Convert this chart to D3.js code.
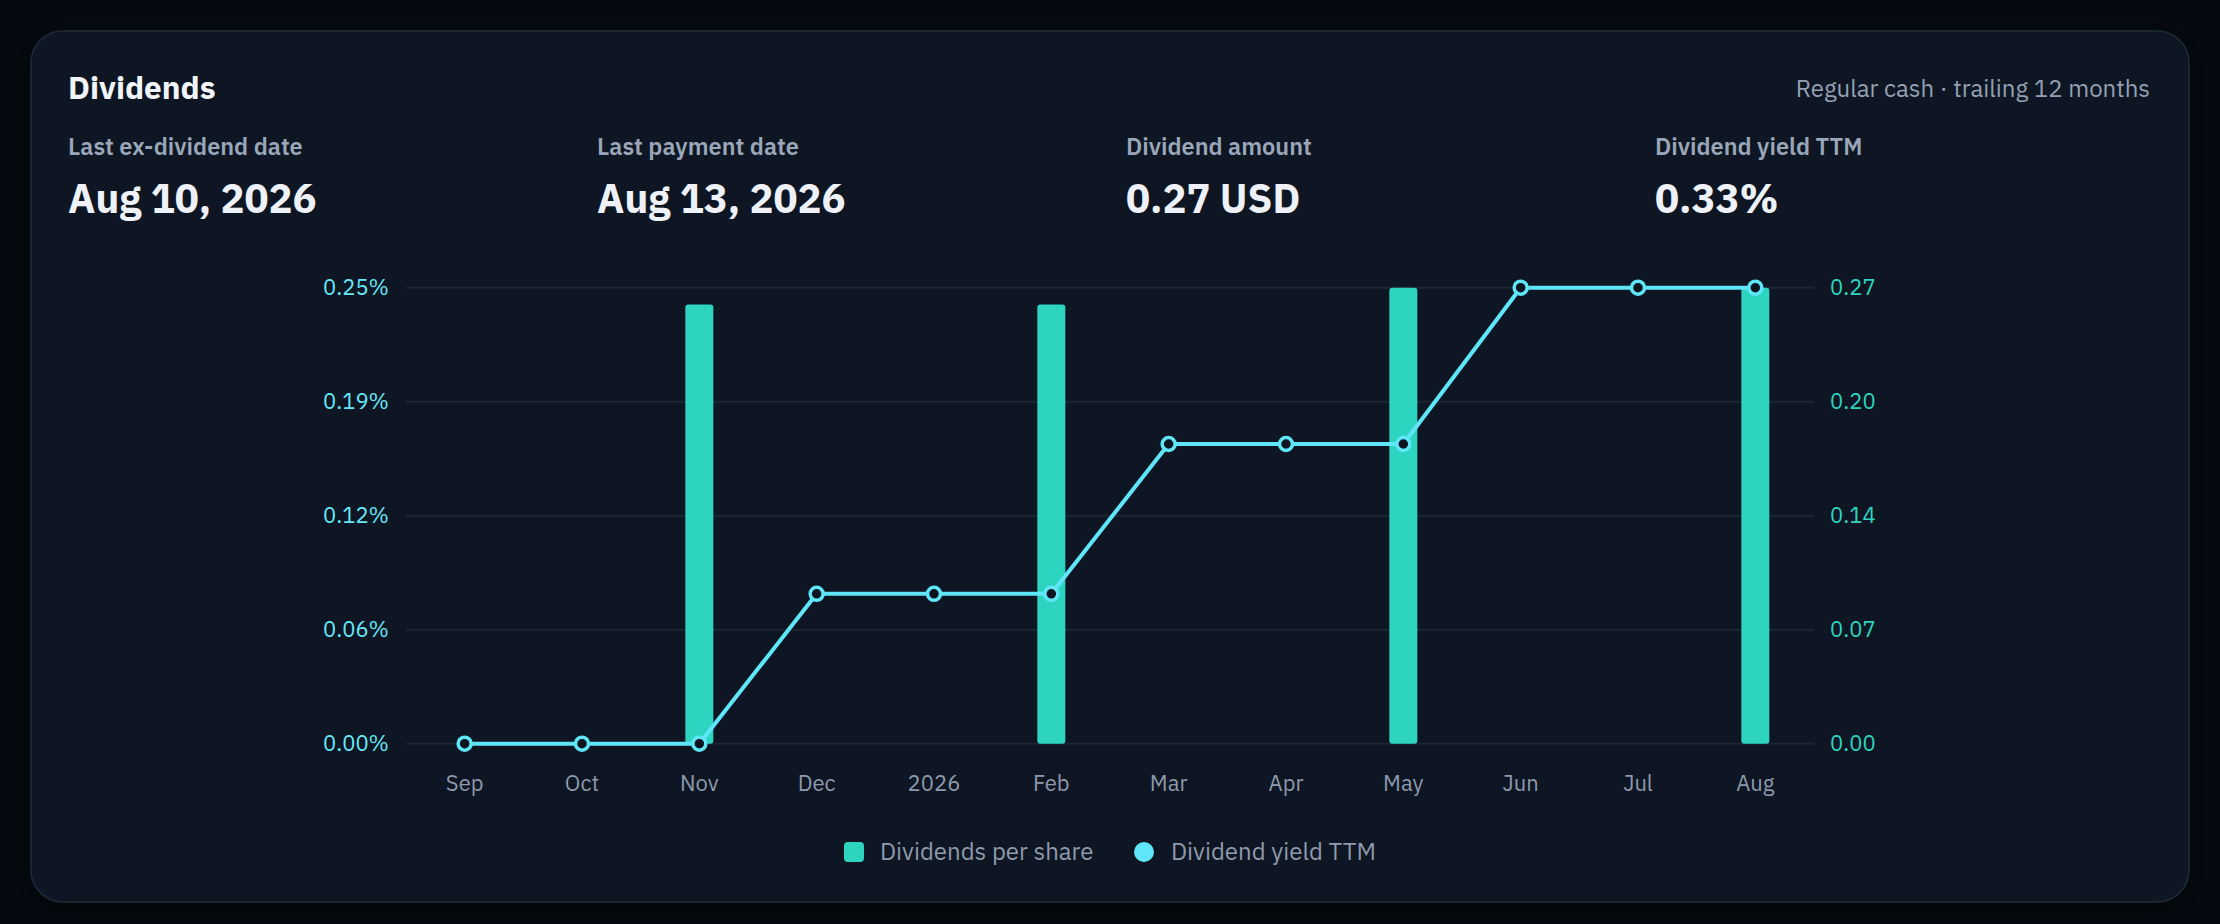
<!DOCTYPE html>
<html>
<head>
<meta charset="utf-8">
<script src="https://cdn.jsdelivr.net/npm/d3@7"></script>
<style>
  body { margin: 0; background: #050a10; }
  svg { display: block; font-family: "IBM Plex Sans", Roboto, "Noto Sans", sans-serif; }
</style>
</head>
<body>
<div id="chart"></div>
<script>
// chart data
var months = ["Sep", "Oct", "Nov", "Dec", "2026", "Feb", "Mar", "Apr", "May", "Jun", "Jul", "Aug"];
var dividends = [0, 0, 0.26, 0, 0, 0.26, 0, 0, 0.27, 0, 0, 0.27];
var yieldTTM = [0, 0, 0, 0.0815, 0.0815, 0.0815, 0.163, 0.163, 0.163, 0.248, 0.248, 0.248];
var leftTickLabels = ["0.00%", "0.06%", "0.12%", "0.19%", "0.25%"];
var rightTickLabels = ["0.00", "0.07", "0.14", "0.20", "0.27"];
var stats = [
    { label: "Last ex-dividend date", value: "Aug 10, 2026" },
    { label: "Last payment date", value: "Aug 13, 2026" },
    { label: "Dividend amount", value: "0.27 USD" },
    { label: "Dividend yield TTM", value: "0.33%" }
];

var W = 2220, H = 924;
var barColor = "#2dd4bf", lineColor = "#5fe6f8", cardBg = "#0e1521";
var plot = { left: 406, right: 1814, top: 287.7, bottom: 743.7 };

var svg = d3.select("#chart").append("svg")
    .attr("width", W)
    .attr("height", H);

var defs = svg.append("defs");
var f = defs.append("filter").attr("id", "shadow")
    .attr("x", "-5%").attr("y", "-5%").attr("width", "110%").attr("height", "115%");
f.append("feDropShadow").attr("dx", 0).attr("dy", 6).attr("stdDeviation", 12)
    .attr("flood-color", "#000").attr("flood-opacity", 0.5);

// card
svg.append("rect")
    .attr("x", 31).attr("y", 31)
    .attr("width", 2158).attr("height", 871)
    .attr("rx", 32)
    .attr("fill", cardBg)
    .attr("stroke", "#1f2b38")
    .attr("stroke-width", 1.5)
    .attr("filter", "url(#shadow)");

svg.append("text")
    .attr("x", 68).attr("y", 99)
    .attr("fill", "#f1f5f9")
    .style("font-size", "31.5px").style("font-weight", 700)
    .text("Dividends");

svg.append("text")
    .attr("x", 2150).attr("y", 97)
    .attr("text-anchor", "end")
    .attr("fill", "#94a0b4")
    .style("font-size", "24px")
    .text("Regular cash \u00b7 trailing 12 months");

var statX = d3.scaleLinear().domain([0, 1]).range([68, 597]);
var sg = svg.selectAll(".stat").data(stats).enter().append("g")
    .attr("transform", function(d, i) { return "translate(" + statX(i) + ",0)"; });
sg.append("text")
    .attr("y", 155)
    .attr("fill", "#9aa6b9")
    .style("font-size", "23.5px").style("font-weight", 600)
    .text(function(d) { return d.label; });
sg.append("text")
    .attr("y", 213)
    .attr("fill", "#eef2f8")
    .style("font-size", "40px").style("font-weight", 700)
    .text(function(d) { return d.value; });

// scales
var x = d3.scaleBand()
    .domain(months)
    .range([plot.left, plot.right])
    .padding(0);
var yL = d3.scaleLinear()
    .domain([0, d3.max(yieldTTM)])
    .range([plot.bottom, plot.top]);
var yR = d3.scaleLinear()
    .domain([0, d3.max(dividends)])
    .range([plot.bottom, plot.top]);

var leftTicks = d3.range(5).map(function(i) { return yL.domain()[1] * i / 4; });
var rightTicks = d3.range(5).map(function(i) { return yR.domain()[1] * i / 4; });

// grid
svg.append("g").selectAll("line").data(leftTicks).enter().append("line")
    .attr("x1", plot.left).attr("x2", plot.right)
    .attr("y1", function(d) { return yL(d); })
    .attr("y2", function(d) { return yL(d); })
    .attr("stroke", "#1c2733")
    .attr("stroke-width", 2);

// axes
var gl = svg.append("g")
    .attr("transform", "translate(" + plot.left + ",0)")
    .call(d3.axisLeft(yL).tickValues(leftTicks).tickSize(0).tickPadding(17)
        .tickFormat(function(d, i) { return leftTickLabels[i]; }));
gl.select(".domain").remove();
gl.selectAll("text").attr("fill", "#67e8f9").style("font-size", "22px")
    .style("font-family", "\"IBM Plex Sans\", Roboto, sans-serif");

var gr = svg.append("g")
    .attr("transform", "translate(" + plot.right + ",0)")
    .call(d3.axisRight(yR).tickValues(rightTicks).tickSize(0).tickPadding(16)
        .tickFormat(function(d, i) { return rightTickLabels[i]; }));
gr.select(".domain").remove();
gr.selectAll("text").attr("fill", barColor).style("font-size", "22px")
    .style("font-family", "\"IBM Plex Sans\", Roboto, sans-serif");

var gx = svg.append("g")
    .attr("transform", "translate(0," + plot.bottom + ")")
    .call(d3.axisBottom(x).tickSize(0).tickPadding(32));
gx.select(".domain").remove();
gx.selectAll("text").attr("fill", "#8e9aad").style("font-size", "22px")
    .style("font-family", "\"IBM Plex Sans\", Roboto, sans-serif");

// bars
var barW = 28;
svg.append("g").selectAll("rect")
    .data(months.map(function(m, i) { return { m: m, v: dividends[i] }; })
        .filter(function(d) { return d.v > 0; }))
    .enter().append("rect")
    .attr("x", function(d) { return x(d.m) + x.bandwidth() / 2 - barW / 2; })
    .attr("y", function(d) { return yR(d.v); })
    .attr("width", barW)
    .attr("height", function(d) { return yR(0) - yR(d.v); })
    .attr("rx", 3)
    .attr("fill", barColor);

// yield line
var pts = months.map(function(m, i) { return { m: m, v: yieldTTM[i] }; });
svg.append("path")
    .datum(pts)
    .attr("fill", "none")
    .attr("stroke", lineColor)
    .attr("stroke-width", 4)
    .attr("stroke-linejoin", "round")
    .attr("d", d3.line()
        .x(function(d) { return x(d.m) + x.bandwidth() / 2; })
        .y(function(d) { return yL(d.v); }));

svg.append("g").selectAll("circle").data(pts).enter().append("circle")
    .attr("cx", function(d) { return x(d.m) + x.bandwidth() / 2; })
    .attr("cy", function(d) { return yL(d.v); })
    .attr("r", 6.5)
    .attr("fill", cardBg)
    .attr("stroke", lineColor)
    .attr("stroke-width", 3.5);

// legend
var lg = svg.append("g");
lg.append("rect")
    .attr("x", 844).attr("y", 842)
    .attr("width", 20).attr("height", 20)
    .attr("rx", 4)
    .attr("fill", barColor);
lg.append("text")
    .attr("x", 880).attr("y", 860)
    .attr("fill", "#8e9aad")
    .style("font-size", "24px")
    .text("Dividends per share");
lg.append("circle")
    .attr("cx", 1144).attr("cy", 852)
    .attr("r", 10)
    .attr("fill", lineColor);
lg.append("text")
    .attr("x", 1171).attr("y", 860)
    .attr("fill", "#8e9aad")
    .style("font-size", "24px")
    .text("Dividend yield TTM");
</script>
</body>
</html>
